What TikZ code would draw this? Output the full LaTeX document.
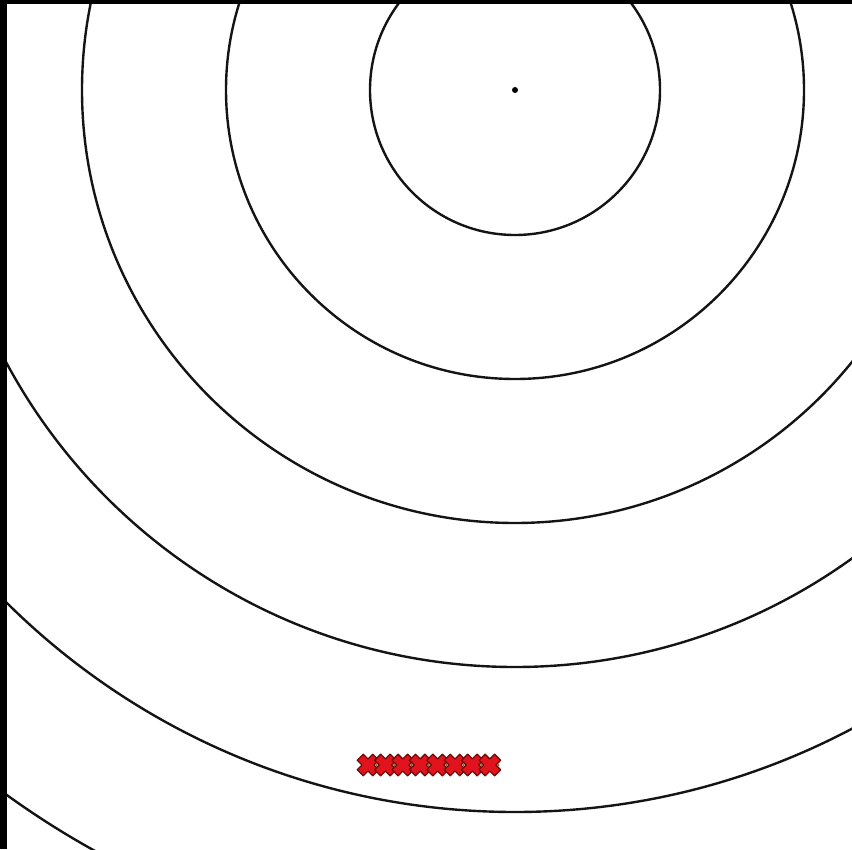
\documentclass[tikz,border=0pt]{standalone}
\usepackage{tikz}
\usetikzlibrary{calc}
\definecolor{ringBlack}{RGB}{20,20,20}
\definecolor{markRed}{RGB}{225,20,30}
\definecolor{markRedDark}{RGB}{110,10,10}
\definecolor{markDot}{RGB}{120,110,20}

\tikzset{
  ring/.style={ringBlack, line width=1.7pt},
  xmark/.style={fill=markRed, draw=markRedDark, line width=0.9pt, line join=round},
}

\begin{document}
\begin{tikzpicture}[x=0.025cm,y=0.025cm]
\useasboundingbox (0,0) rectangle (852,849);
\fill[white] (0,0) rectangle (852,849);
\coordinate (src) at (515,759);

\begin{scope}
\clip (7,0) rectangle (852,845);
\foreach \r in {145,289,433,577,722,869}{
  \draw[ring] (src) circle (\r);
}
\end{scope}
\fill[black] (src) circle (3);

% row of markers
\foreach \i in {0,...,7}{
  \coordinate (m\i) at ({368+17.4*\i},84);
}
\foreach \i in {0,...,7}{
  \draw[xmark, shift={(m\i)}, rotate=45]
    (4.3,11)--(4.3,4.3)--(11,4.3)--(11,-4.3)--(4.3,-4.3)--(4.3,-11)
    --(-4.3,-11)--(-4.3,-4.3)--(-11,-4.3)--(-11,4.3)--(-4.3,4.3)--(-4.3,11)--cycle;
}
\foreach \i in {0,...,7}{
  \fill[markDot] ($(m\i)+(8.7,0)$) circle (1.2);
}

% frame edges
\fill[black] (0,845) rectangle (852,849);
\fill[black] (0,0) rectangle (7,849);
\end{tikzpicture}
\end{document}
